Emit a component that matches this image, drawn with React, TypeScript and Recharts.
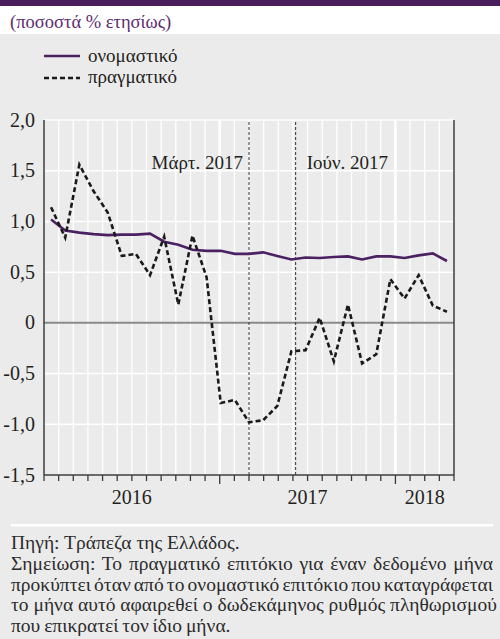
import React from 'react';
import { LineChart, Line, XAxis, YAxis, ReferenceLine } from 'recharts';

// Monthly observations: Jan 2016 ... May 2018
const monthIndex = [0,1,2,3,4,5,6,7,8,9,10,11,12,13,14,15,16,17,18,19,20,21,22,23,24,25,26,27,28];
const nominal = [1.02,0.91,0.89,0.875,0.865,0.87,0.87,0.88,0.80,0.77,0.72,0.71,0.71,0.68,0.68,0.695,0.66,0.625,0.645,0.64,0.65,0.655,0.625,0.655,0.655,0.64,0.665,0.685,0.61];
const real = [1.14,0.84,1.56,1.3,1.09,0.66,0.68,0.47,0.85,0.18,0.86,0.45,-0.79,-0.76,-0.98,-0.96,-0.82,-0.28,-0.27,0.05,-0.38,0.18,-0.40,-0.31,0.43,0.24,0.47,0.17,0.11];

// Axis tick structure (month boundaries on the time axis)
const monthTicks = [0,1,2,3,4,5,6,7,8,9,10,11,12,13,14,15,16,17,18,19,20,21,22,23,24,25,26,27,28];
const yearBoundaries = [12, 24];
const yearLabelPos = [6, 18, 26];
const yearLabels = ['2016', '2017', '2018'];
const yTicks = [-1.5, -1.0, -0.5, 0, 0.5, 1.0, 1.5, 2.0];

const markers = [
  { x: 14, label: 'Μάρτ. 2017', side: 'left' },
  { x: 17.3, label: 'Ιούν. 2017', side: 'right' },
];

const title = '(ποσοστά % ετησίως)';
const legendNames = ['ονομαστικό', 'πραγματικό'];
const noteLines = [
  'Πηγή: Τράπεζα της Ελλάδος.',
  'Σημείωση: Το πραγματικό επιτόκιο για έναν δεδομένο μήνα',
  'προκύπτει όταν από το ονομαστικό επιτόκιο που καταγράφεται',
  'το μήνα αυτό αφαιρεθεί ο δωδεκάμηνος ρυθμός πληθωρισμού',
  'που επικρατεί τον ίδιο μήνα.',
];

const data = monthIndex.map((i, k) => ({ i, nominal: nominal[k], real: real[k] }));

const FONT = '"Liberation Serif", "Times New Roman", serif';
const TXT = '#231f20';
const PURPLE = '#4b2162';
const BG = '#ebebeb';

const fmt = (v: number) => (v === 0 ? '0' : v.toFixed(1).replace('.', ','));

const LeftTick = (props: any) => {
  const { x, y, payload } = props;
  return (
    <text x={x - 9} y={y} dy="0.33em" textAnchor="end" fontFamily={FONT} fontSize={20} fill={TXT}>
      {fmt(payload.value)}
    </text>
  );
};

const RightTick = (props: any) => {
  const { x, y, payload } = props;
  return (
    <text x={x + 44} y={y} dy="0.33em" textAnchor="end" fontFamily={FONT} fontSize={20} fill={TXT}>
      {fmt(payload.value)}
    </text>
  );
};

const MonthTick = (props: any) => {
  const { x, y, payload } = props;
  const v = payload.value;
  const long = yearBoundaries.includes(v);
  return <line x1={x} x2={x} y1={y} y2={y + (long ? 9 : 6)} stroke="#3a3a3a" strokeWidth={1.3} />;
};

const YearTick = (props: any) => {
  const { x, y, payload } = props;
  const li = yearLabelPos.indexOf(payload.value);
  if (li < 0) return <g />;
  return (
    <text x={x} y={y} dy="0.33em" textAnchor="middle" fontFamily={FONT} fontSize={20} fill={TXT}>
      {yearLabels[li]}
    </text>
  );
};

const markerLabel = (m: any) => (props: any) => {
  const vb = props.viewBox || {};
  const x = m.side === 'left' ? vb.x - 6 : vb.x + 11;
  return (
    <text x={x} y={169} textAnchor={m.side === 'left' ? 'end' : 'start'} fontFamily={FONT} fontSize={19} fill={TXT}>
      {m.label}
    </text>
  );
};

export default function App() {
  return (
    <div style={{ position: 'absolute', left: 0, top: 0, width: 500, height: 639, overflow: 'hidden', backgroundColor: BG }}>
      <svg style={{ position: 'absolute', left: 0, top: 0 }} width={500} height={639}>
        <rect x={0} y={0} width={500} height={639} fill={BG} />
        <rect x={0} y={0} width={500} height={6} fill="#4a1d5c" />
        <rect x={0} y={6} width={500} height={28} fill="#ffffff" />
        <rect x={11} y={524} width={482} height={2.5} fill="#ffffff" />
        <line x1={44} x2={80} y1={56} y2={56} stroke={PURPLE} strokeWidth={2.6} />
        <line x1={44} x2={80} y1={78} y2={78} stroke="#1a1a1a" strokeWidth={2.6} strokeDasharray="5 3" />
        <text x={10} y={28} fontFamily={FONT} fontSize={18.5} fill="#5b2c70">{title}</text>
        <text x={88} y={62} fontFamily={FONT} fontSize={19} fill={TXT}>{legendNames[0]}</text>
        <text x={88} y={83} fontFamily={FONT} fontSize={19} fill={TXT}>{legendNames[1]}</text>
      </svg>

      <div style={{ position: 'absolute', left: 0, top: 0 }}>
        <LineChart width={500} height={639} data={data} margin={{ top: 120, right: 0, bottom: 0, left: 0 }}>
          <XAxis
            xAxisId="t"
            dataKey="i"
            type="number"
            domain={[0, 28]}
            ticks={monthTicks}
            interval={0}
            height={10}
            tickSize={0}
            tickMargin={0}
            tickLine={false}
            tick={<MonthTick />}
            axisLine={{ stroke: '#3a3a3a', strokeWidth: 1.3 }}
          />
          <XAxis
            xAxisId="y"
            dataKey="i"
            type="number"
            domain={[0, 28]}
            ticks={yearLabelPos}
            interval={0}
            height={154}
            tickSize={0}
            tickMargin={12}
            tickLine={false}
            axisLine={false}
            tick={<YearTick />}
          />
          <XAxis xAxisId="d" dataKey="i" type="number" domain={[-0.5, 28.5]} hide height={0} />
          <YAxis
            yAxisId="l"
            orientation="left"
            type="number"
            domain={[-1.5, 2]}
            ticks={yTicks}
            interval={0}
            width={44}
            tickSize={0}
            tickMargin={0}
            tickLine={false}
            tick={<LeftTick />}
            axisLine={{ stroke: '#3a3a3a', strokeWidth: 1.5 }}
          />
          <YAxis
            yAxisId="r"
            orientation="right"
            type="number"
            domain={[-1.5, 2]}
            ticks={yTicks}
            interval={0}
            width={46}
            tickSize={0}
            tickMargin={0}
            tickLine={false}
            tick={<RightTick />}
            axisLine={{ stroke: '#3a3a3a', strokeWidth: 1.5 }}
          />
          {monthTicks.map((b) => (
            <ReferenceLine
              key={'vg' + b}
              xAxisId="t"
              yAxisId="l"
              x={b}
              stroke="#ffffff"
              strokeWidth={yearBoundaries.includes(b) ? 2.6 : 1.3}
            />
          ))}
          {yTicks.map((v) => (
            <ReferenceLine
              key={'hg' + v}
              xAxisId="t"
              yAxisId="l"
              y={v}
              stroke={v === 0 ? '#8a8a8a' : '#ffffff'}
              strokeWidth={v === 0 ? 2 : 1.5}
            />
          ))}
          {markers.map((m) => (
            <ReferenceLine
              key={m.label}
              xAxisId="d"
              yAxisId="l"
              x={m.x}
              stroke="#333333"
              strokeWidth={1}
              strokeDasharray="3 2"
              label={markerLabel(m)}
            />
          ))}
          <Line xAxisId="d" yAxisId="l" type="linear" dataKey="nominal" stroke={PURPLE} strokeWidth={2.6} dot={false} isAnimationActive={false} />
          <Line xAxisId="d" yAxisId="l" type="linear" dataKey="real" stroke="#1a1a1a" strokeWidth={2.6} strokeDasharray="5 3" dot={false} isAnimationActive={false} />
        </LineChart>
      </div>

      <div style={{ position: 'absolute', left: 11, top: 533, width: 482, fontFamily: FONT, fontSize: 19.5, lineHeight: '20.75px', color: '#2b2b2b' }}>
        {noteLines.map((t, k) => (
          <div
            key={k}
            style={{
              whiteSpace: 'nowrap',
              textAlign: k >= 1 && k <= 3 ? 'justify' : 'left',
              textAlignLast: k >= 1 && k <= 3 ? 'justify' : 'left',
              wordSpacing: k === 2 ? '-5px' : k === 4 ? '-1px' : undefined,
            }}
          >
            {t}
          </div>
        ))}
      </div>
    </div>
  );
}
